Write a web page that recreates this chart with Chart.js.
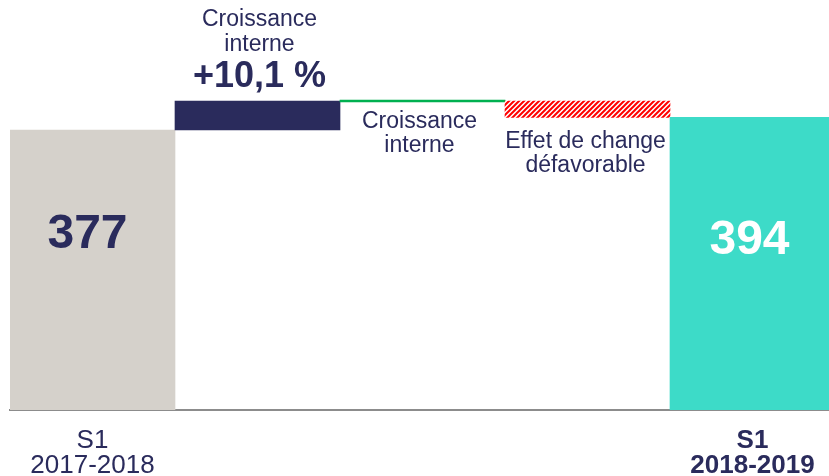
<!DOCTYPE html>
<html>
<head>
<meta charset="utf-8">
<script src="https://cdn.jsdelivr.net/npm/chart.js@4.4.1/dist/chart.umd.min.js"></script>
<style>
  html, body { margin: 0; padding: 0; background: #fff; overflow: hidden; }
  #wrap { width: 835px; height: 476px; }
</style>
</head>
<body>
<div id="wrap"><canvas id="bridge"></canvas></div>
<script>
// categories and values
const categories = [['S1', '2017-2018'], '', '', '', ['S1', '2018-2019']];
const startValue = 377;
const organicTop = 416;   // after croissance interne (+10,1 %)
const scopeTop = 416;     // croissance interne (périmètre) ~ nul
const endValue = 394;
const barLabels = ['377', '', '', '', '394'];

const NAVY = '#2a2b5c';
const GREY = '#d5d1cb';
const TEAL = '#3ddbc8';
const GREEN = '#00b050';
const RED = '#ff0000';

function hatch() {
  const c = document.createElement('canvas');
  c.width = 5; c.height = 5;
  const g = c.getContext('2d');
  g.fillStyle = '#fff';
  g.fillRect(0, 0, 5, 5);
  g.strokeStyle = RED;
  g.lineWidth = 2;
  g.beginPath();
  g.moveTo(-1, 6); g.lineTo(6, -1);
  g.moveTo(-4, 4); g.lineTo(4, -4);
  g.moveTo(1, 9); g.lineTo(9, 1);
  g.stroke();
  return g.createPattern(c, 'repeat');
}

const annotations = {
  id: 'annotations',
  afterDatasetsDraw(chart) {
    const ctx = chart.ctx;
    const bars = chart.getDatasetMeta(0).data;
    ctx.save();
    ctx.textAlign = 'center';
    ctx.textBaseline = 'middle';

    // totals inside end bars
    ctx.font = 'bold 48px "Liberation Sans", Arial, sans-serif';
    ctx.fillStyle = NAVY;
    ctx.fillText(barLabels[0], bars[0].x - 5, 235);
    ctx.fillStyle = '#fff';
    ctx.fillText(barLabels[4], bars[4].x - 3, 241);

    // above organic growth bar
    ctx.fillStyle = NAVY;
    ctx.font = '23px "Liberation Sans", Arial, sans-serif';
    ctx.fillText('Croissance', bars[1].x + 2, 20);
    ctx.fillText('interne', bars[1].x + 2, 45);
    ctx.font = 'bold 36px "Liberation Sans", Arial, sans-serif';
    ctx.fillText('+10,1 %', bars[1].x + 2, 77);

    // under the thin green and hatched steps
    ctx.font = '23px "Liberation Sans", Arial, sans-serif';
    ctx.fillText('Croissance', bars[2].x - 3, 122);
    ctx.fillText('interne', bars[2].x - 3, 146);
    ctx.fillText('Effet de change', bars[3].x - 2, 142);
    ctx.fillText('défavorable', bars[3].x - 2, 166);
    ctx.restore();
  }
};

new Chart(document.getElementById('bridge'), {
  type: 'bar',
  data: {
    labels: categories,
    datasets: [{
      data: [
        [0, startValue],
        [startValue, organicTop],
        [scopeTop - 1.3, scopeTop + 1.4],
        [endValue, organicTop],
        [0, endValue]
      ],
      backgroundColor: [GREY, NAVY, GREEN, hatch(), TEAL],
      borderWidth: 0,
      barPercentage: 1,
      categoryPercentage: 1
    }]
  },
  options: {
    responsive: true,
    maintainAspectRatio: false,
    animation: false,
    layout: { padding: { left: 10, right: 0, top: 0, bottom: 0 } },
    plugins: { legend: { display: false }, tooltip: { enabled: false } },
    scales: {
      y: { display: false, min: 0, max: 552 },
      x: {
        afterFit(scale) { scale.height = 66; },
        grid: { display: false },
        border: { display: true, color: '#8c8c8c', width: 2 },
        ticks: {
          color: NAVY,
          padding: 10,
          maxRotation: 0,
          autoSkip: false,
          font: (c) => ({
            family: '"Liberation Sans", Arial, sans-serif',
            size: 26,
            lineHeight: 0.97,
            weight: c.index === 4 ? 'bold' : 'normal'
          })
        }
      }
    }
  },
  plugins: [annotations]
});
</script>
</body>
</html>
